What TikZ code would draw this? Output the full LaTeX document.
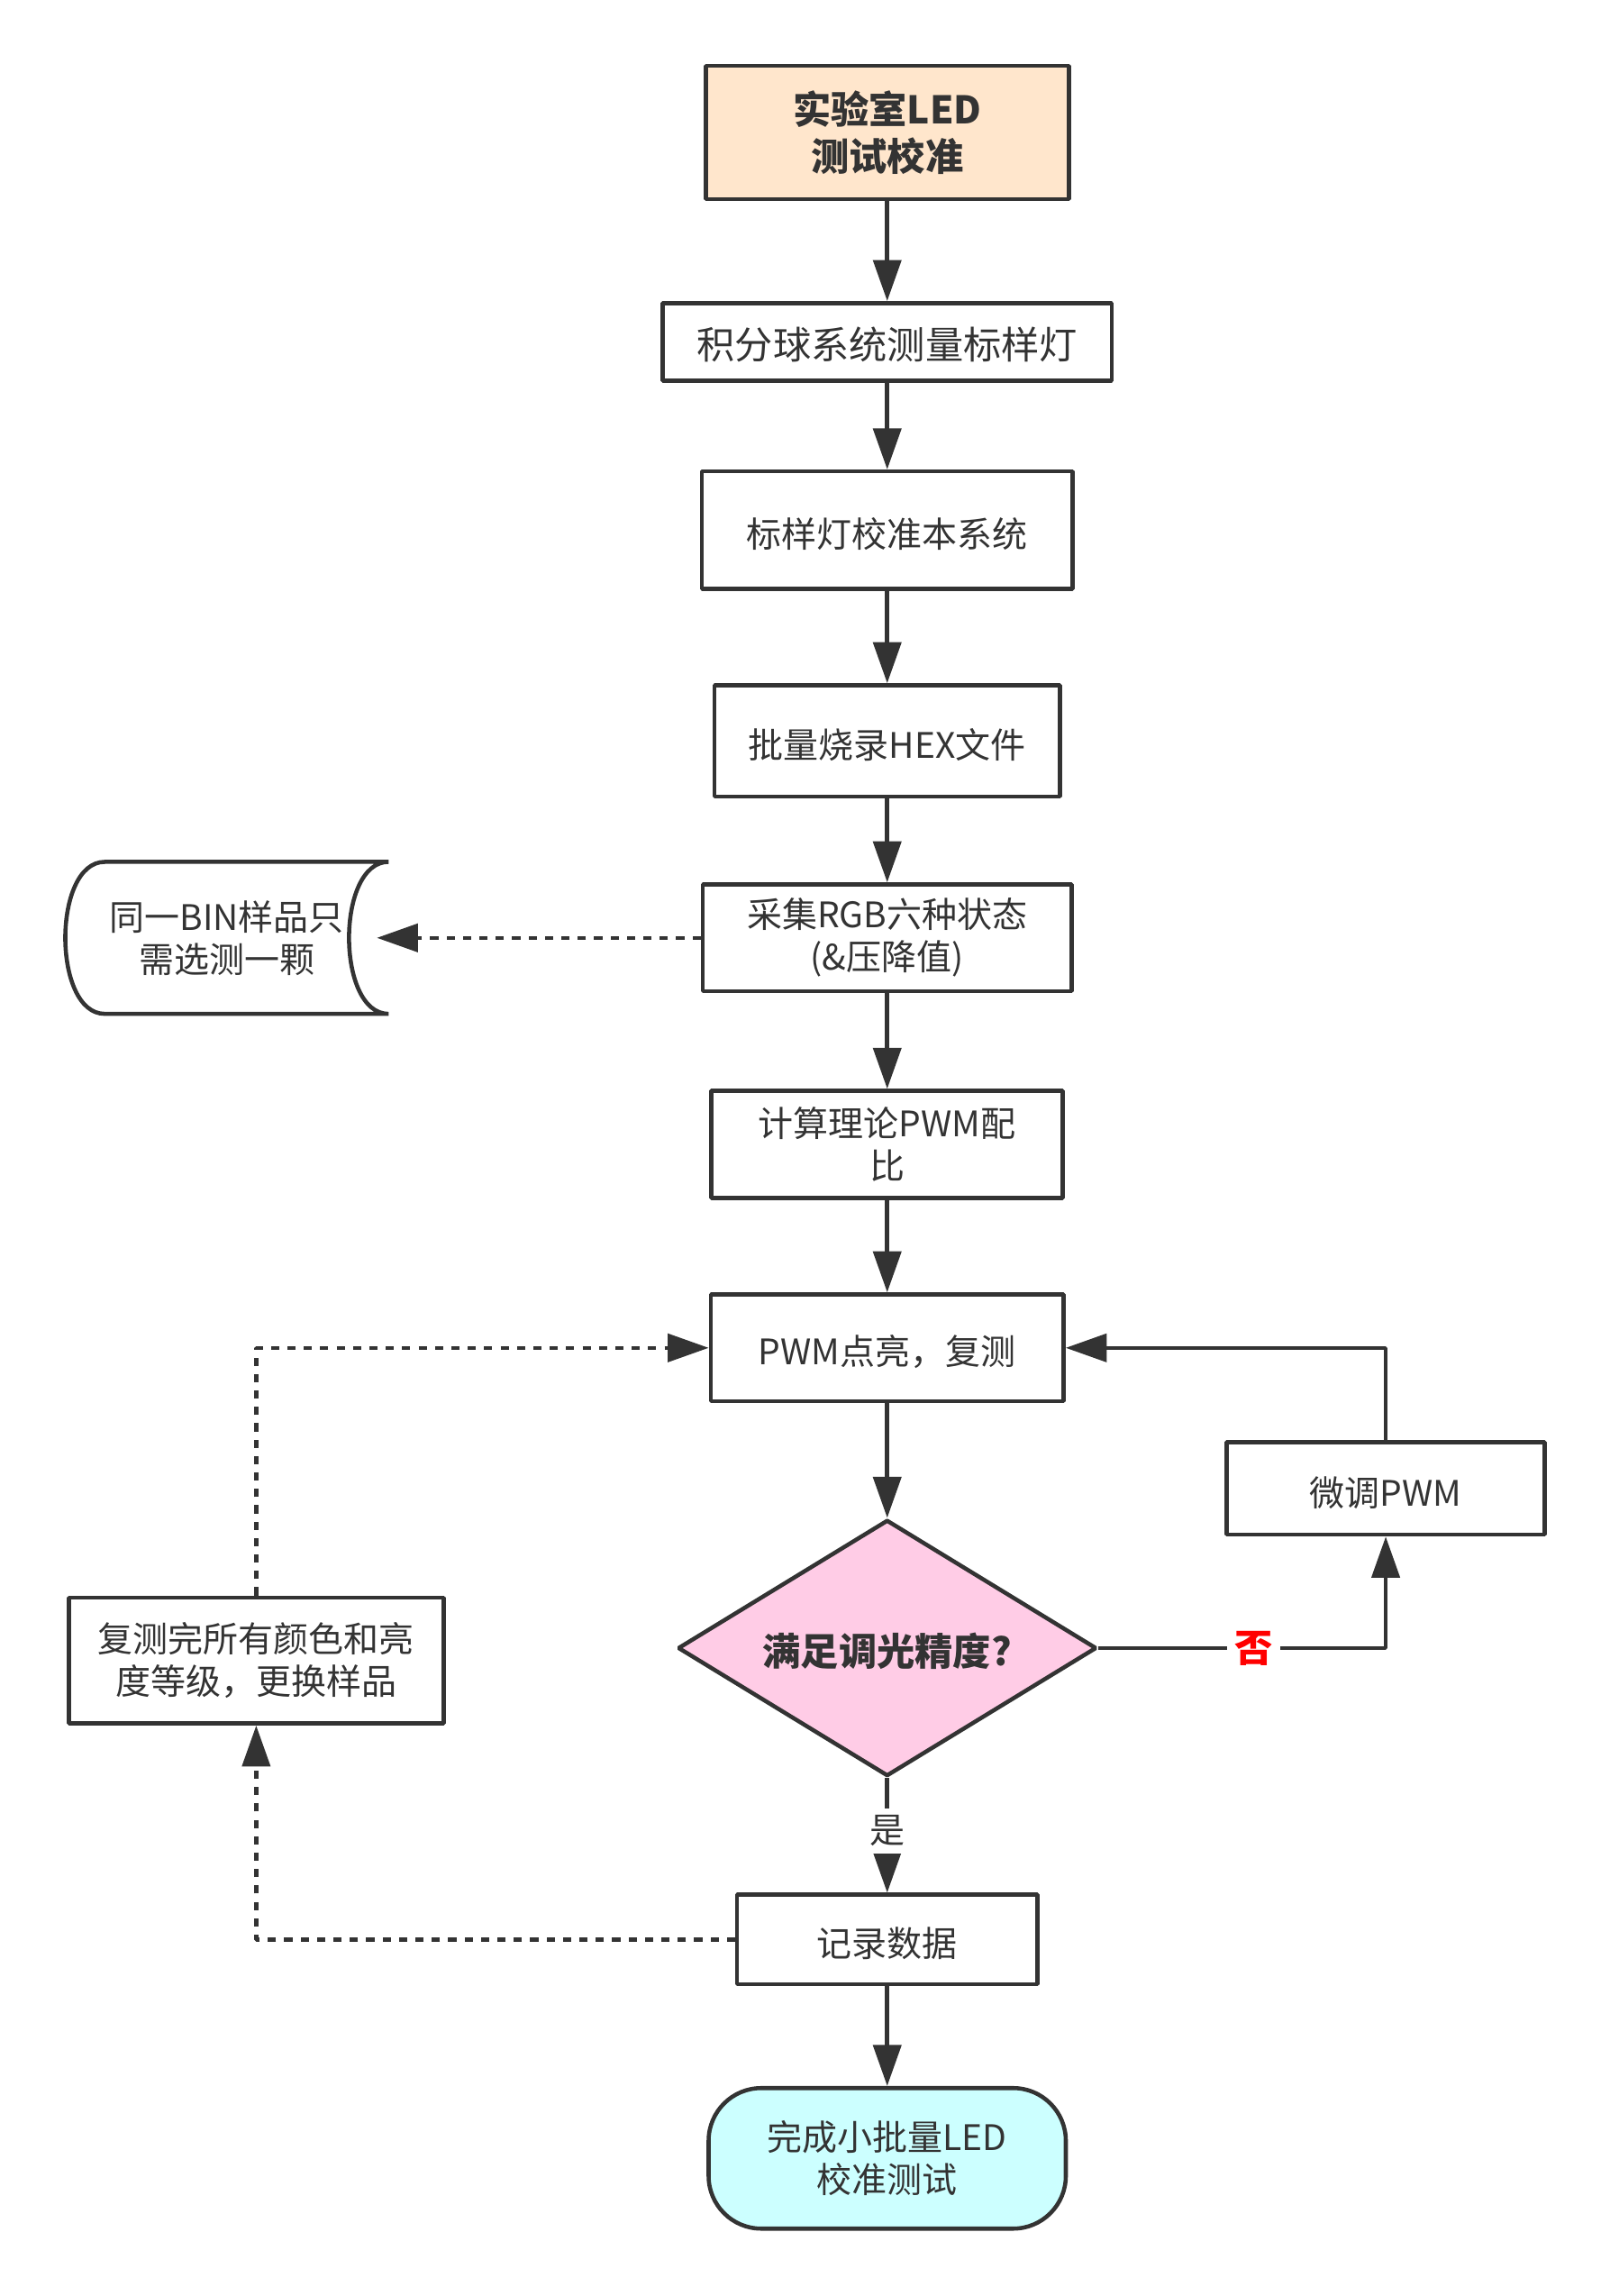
\documentclass[tikz,border=0pt]{standalone}
\usepackage{fontspec}
\setmainfont{Noto Sans CJK SC}
\usetikzlibrary{arrows.meta,shapes.geometric}
\definecolor{linegray}{HTML}{333333}
\definecolor{startfill}{HTML}{FFE6CC}
\definecolor{checkfill}{HTML}{FFCCE6}
\definecolor{endfill}{HTML}{CCFFFF}
\begin{document}
\begin{tikzpicture}[>={Triangle[length=14bp,width=9.5bp]},line join=bevel,
  every node/.style={text=linegray,font=\fontsize{12bp}{14.5bp}\selectfont,align=center,inner sep=0pt},
  lowtext/.style={execute at begin node={\rule{0pt}{13bp}}},
  box/.style={draw=linegray,line width=1.4bp,lowtext},
  flow/.style={draw=linegray,line width=1.4bp,->},
  dotflow/.style={flow,dash pattern=on 2.8bp off 2.8bp},
  bigtext/.style={font=\fontsize{13bp}{16bp}\selectfont},
  boldtext/.style={font=\fontsize{13bp}{16bp}\selectfont\bfseries},
  onlabel/.style={fill=white,inner sep=2.5bp}]
\useasboundingbox (0bp,0bp) rectangle (549.8bp,784bp);
%%
\node (start) at (303bp,738.75bp) [box,boldtext,fill=startfill,minimum width=124bp,minimum height=45.5bp] {实验室LED\\测试校准};
  \node (sphere) at (303bp,667.25bp) [box,bigtext,minimum width=153.5bp,minimum height=26.5bp] {积分球系统测量标样灯};
  \node (calib) at (303bp,603bp) [box,minimum width=126.5bp,minimum height=40bp] {标样灯校准本系统};
  \node (burn) at (303bp,531bp) [box,minimum width=118bp,minimum height=38bp] {批量烧录HEX文件};
  \node (collect) at (303bp,463.75bp) [box,minimum width=126bp,minimum height=36.5bp] {采集RGB六种状态\\(\&压降值)};
  \node (bin) at (77.5bp,463.75bp) [lowtext,minimum width=110bp,minimum height=51.5bp] {同一BIN样品只\\需选测一颗};
  \node (calc) at (303bp,393.25bp) [box,minimum width=120bp,minimum height=36.5bp] {计算理论PWM配\\比};
  \node (pwm) at (303bp,323.75bp) [box,minimum width=120.5bp,minimum height=36.5bp] {PWM点亮，复测};
  \node (check) at (303bp,221.25bp) [diamond,aspect=2,box,boldtext,fill=checkfill,minimum width=143bp,minimum height=87.5bp] {满足调光精度?};
  \node (tune) at (473.25bp,275.75bp) [box,minimum width=108.5bp,minimum height=31.5bp] {微调PWM};
  \node (retest) at (87.5bp,217bp) [box,minimum width=128bp,minimum height=43bp] {复测完所有颜色和亮\\度等级，更换样品};
  \node (record) at (303bp,121.75bp) [box,minimum width=102.5bp,minimum height=30.5bp] {记录数据};
  \node (done) at (303bp,47bp) [box,rounded corners=18bp,fill=endfill,minimum width=122bp,minimum height=48bp] {完成小批量LED\\校准测试};
%
\draw [box] ([xshift=13.5bp]bin.north west) -- (bin.north east)
  .. controls ([xshift=-18bp]bin.north east) and ([xshift=-18bp]bin.south east) .. (bin.south east)
  -- ([xshift=13.5bp]bin.south west)
  .. controls ([xshift=-4.5bp]bin.south west) and ([xshift=-4.5bp]bin.north west) .. cycle;
%%
\draw [flow] (start) -- (sphere);
  \draw [flow] (sphere) -- (calib);
  \draw [flow] (calib) -- (burn);
  \draw [flow] (burn) -- (collect);
  \draw [flow] (collect) -- (calc);
  \draw [flow] (calc) -- (pwm);
  \draw [flow] (pwm) -- (check);
  \draw [flow] (check.east) -- node [onlabel,boldtext,text=red,pos=0.54] {否} (check.east -| tune.south) -- (tune.south);
  \draw [flow] (tune.north) |- (pwm.east);
  \draw [flow] (check.south) -- node [onlabel,pos=0.46] {是} (record.north);
  \draw [flow] (record) -- (done);
  \draw [dotflow] (collect.west) -- ([xshift=-4bp]bin.east);
  \draw [dotflow] (record.west) -| (retest.south);
  \draw [dotflow] (retest.north) |- (pwm.west);
%
\end{tikzpicture}
\end{document}
